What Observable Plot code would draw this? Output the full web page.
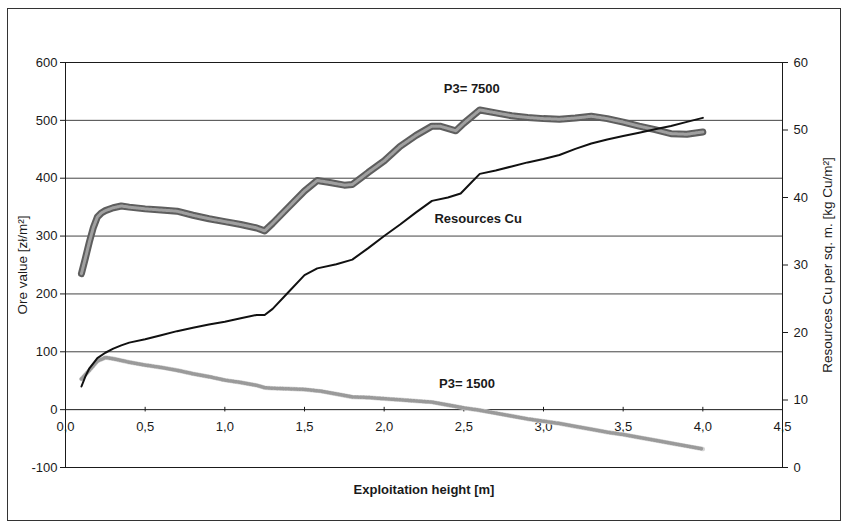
<!DOCTYPE html>
<html>
<head>
<meta charset="utf-8">
<script src="https://cdn.jsdelivr.net/npm/d3@7"></script>
<script src="https://cdn.jsdelivr.net/npm/@observablehq/plot@0.6"></script>
<style>
  html, body { margin: 0; padding: 0; background: #fff; }
  #wrap { position: relative; width: 847px; height: 527px; }
  #border { position: absolute; left: 7px; top: 8px; width: 832px; height: 511px; border: 1px solid #333; pointer-events: none; }
</style>
</head>
<body>
<div id="wrap"><div id="border"></div></div>
<script>
// ---- data ----
const xTicks = [0, 0.5, 1.0, 1.5, 2.0, 2.5, 3.0, 3.5, 4.0, 4.5];
const leftTicks = [-100, 0, 100, 200, 300, 400, 500, 600];
const rightTicks = [0, 10, 20, 30, 40, 50, 60];
const gridValues = [100, 200, 300, 400, 500];

// P3 = 7500 (ore value, zł/m2)
const p7500X = [0.10,0.125,0.15,0.175,0.20,0.225,0.25,0.30,0.35,0.40,0.50,0.60,0.70,0.80,0.90,1.00,1.10,1.20,1.25,1.30,1.40,1.50,1.58,1.65,1.75,1.80,1.90,2.00,2.10,2.20,2.30,2.35,2.45,2.50,2.60,2.70,2.80,2.90,3.00,3.10,3.20,3.30,3.40,3.50,3.60,3.70,3.80,3.90,4.00];
const p7500V = [235,262,290,315,333,340,344,349,352,350,347,345,343,336,330,325,320,314,309,322,350,378,396,393,388,389,410,430,455,474,490,490,482,495,518,513,508,505,503,502,504,507,503,497,490,484,477,476,480];

// Resources Cu (kg Cu/m2, right axis)
const cuX = [0.10,0.125,0.15,0.20,0.25,0.30,0.35,0.40,0.50,0.60,0.70,0.80,0.90,1.00,1.10,1.20,1.25,1.30,1.40,1.50,1.58,1.70,1.80,1.90,2.00,2.10,2.20,2.30,2.40,2.48,2.55,2.60,2.70,2.80,2.90,3.00,3.10,3.20,3.30,3.40,3.50,3.60,3.70,3.80,3.90,4.00];
const cuV = [12,13.5,14.7,16.2,17,17.6,18.1,18.5,19.0,19.6,20.2,20.7,21.2,21.6,22.1,22.6,22.6,23.5,26.0,28.5,29.5,30.1,30.8,32.5,34.3,36.0,37.8,39.5,40.0,40.6,42.3,43.5,44.0,44.6,45.2,45.7,46.3,47.2,48.0,48.6,49.1,49.6,50.1,50.6,51.2,51.8];

// P3 = 1500 (ore value, zł/m2)
const p1500X = [0.10,0.15,0.20,0.25,0.30,0.40,0.50,0.60,0.70,0.80,0.90,1.00,1.10,1.20,1.25,1.30,1.40,1.50,1.60,1.70,1.80,1.90,2.00,2.10,2.20,2.30,2.40,2.50,2.60,2.70,2.80,2.90,3.00,3.10,3.20,3.30,3.40,3.50,3.60,3.70,3.80,3.90,4.00];
const p1500V = [53,68,84,90,88,82,77,73,68,62,57,51,47,42,38,37,36,35,32,27,22,21,19,17,15,13,8,3,-1,-6,-11,-16,-20,-24,-29,-34,-39,-43,-48,-53,-58,-63,-68];

// ---- build tables ----
const t7500 = p7500X.map((x, i) => ({x, v: p7500V[i]}));
const toLeft = r => r * 700 / 60 - 100;     // right axis (0..60) onto left scale (-100..600)
const fromLeft = v => String(Math.round((v + 100) * 60 / 700));
const tCu = cuX.map((x, i) => ({x, v: toLeft(cuV[i])}));
const t1500 = p1500X.map((x, i) => ({x, v: p1500V[i]}));
const fmtX = d => d.toFixed(1).replace(".", ",");

const FS = 13;
const chart = Plot.plot({
  width: 847,
  height: 527,
  marginLeft: 65,
  marginRight: 65,
  marginTop: 62,
  marginBottom: 60,
  style: {fontFamily: "'Liberation Sans', Arial, sans-serif", fontSize: FS + "px", background: "transparent", color: "#1a1a1a"},
  x: {domain: [0, 4.5], axis: null},
  y: {domain: [-100, 600], axis: null},
  marks: [
    Plot.ruleY(gridValues, {stroke: "#444", strokeWidth: 1}),
    Plot.ruleY([0], {stroke: "#1a1a1a", strokeWidth: 1}),
    Plot.frame({stroke: "#1a1a1a", strokeWidth: 1}),
    Plot.axisY(leftTicks, {anchor: "left", tickSize: 5, tickPadding: 3, fontSize: FS, label: null, stroke: "#1a1a1a", fill: "#1a1a1a", tickFormat: d => String(d)}),
    Plot.axisY(rightTicks.map(toLeft), {anchor: "right", tickSize: 5, tickPadding: 6, fontSize: FS, label: null, tickFormat: fromLeft, stroke: "#1a1a1a", fill: "#1a1a1a"}),
    Plot.ruleX(xTicks, {x: d => d, y1: -4, y2: 4, stroke: "#1a1a1a"}),
    Plot.text(xTicks, {x: d => d, y: 0, text: fmtX, dy: 17, fontSize: FS, fill: "#1a1a1a"}),
    // P3 = 1500 series
    Plot.line(t1500, {x: "x", y: "v", stroke: "#d6d6d6", strokeWidth: 4.5}),
    Plot.line(t1500, {x: "x", y: "v", stroke: "#9a9a9a", strokeWidth: 3.5, strokeDasharray: "1,1.8"}),
    // P3 = 7500 series
    Plot.line(t7500, {x: "x", y: "v", stroke: "#5e5e5e", strokeWidth: 7, strokeLinejoin: "round"}),
    Plot.line(t7500, {x: "x", y: "v", stroke: "#a0a0a0", strokeWidth: 3, strokeDasharray: "1.5,1", strokeLinejoin: "round"}),
    // Resources Cu
    Plot.line(tCu, {x: "x", y: "v", stroke: "#111", strokeWidth: 2}),
    // labels
    Plot.text(["P3= 7500"], {x: 2.55, y: 554, text: d => d, fontWeight: "bold", fontSize: FS, fill: "#1a1a1a"}),
    Plot.text(["Resources Cu"], {x: 2.59, y: 329, text: d => d, fontWeight: "bold", fontSize: FS, fill: "#1a1a1a"}),
    Plot.text(["P3= 1500"], {x: 2.52, y: 45, text: d => d, fontWeight: "bold", fontSize: FS, fill: "#1a1a1a"}),
    // axis titles
    Plot.text(["Exploitation height [m]"], {frameAnchor: "bottom", text: d => d, dy: 26, fontWeight: "bold", fontSize: FS, fill: "#1a1a1a"}),
    Plot.text(["Ore value [zł/m²]"], {frameAnchor: "left", text: d => d, textAnchor: "middle", dx: -43, rotate: -90, fontSize: 13.5, fill: "#1a1a1a"}),
    Plot.text(["Resources Cu per sq. m. [kg Cu/m²]"], {frameAnchor: "right", text: d => d, textAnchor: "middle", dx: 45, rotate: -90, fontSize: 13.5, fill: "#1a1a1a"})
  ]
});
document.getElementById("wrap").appendChild(chart);
</script>
</body>
</html>
